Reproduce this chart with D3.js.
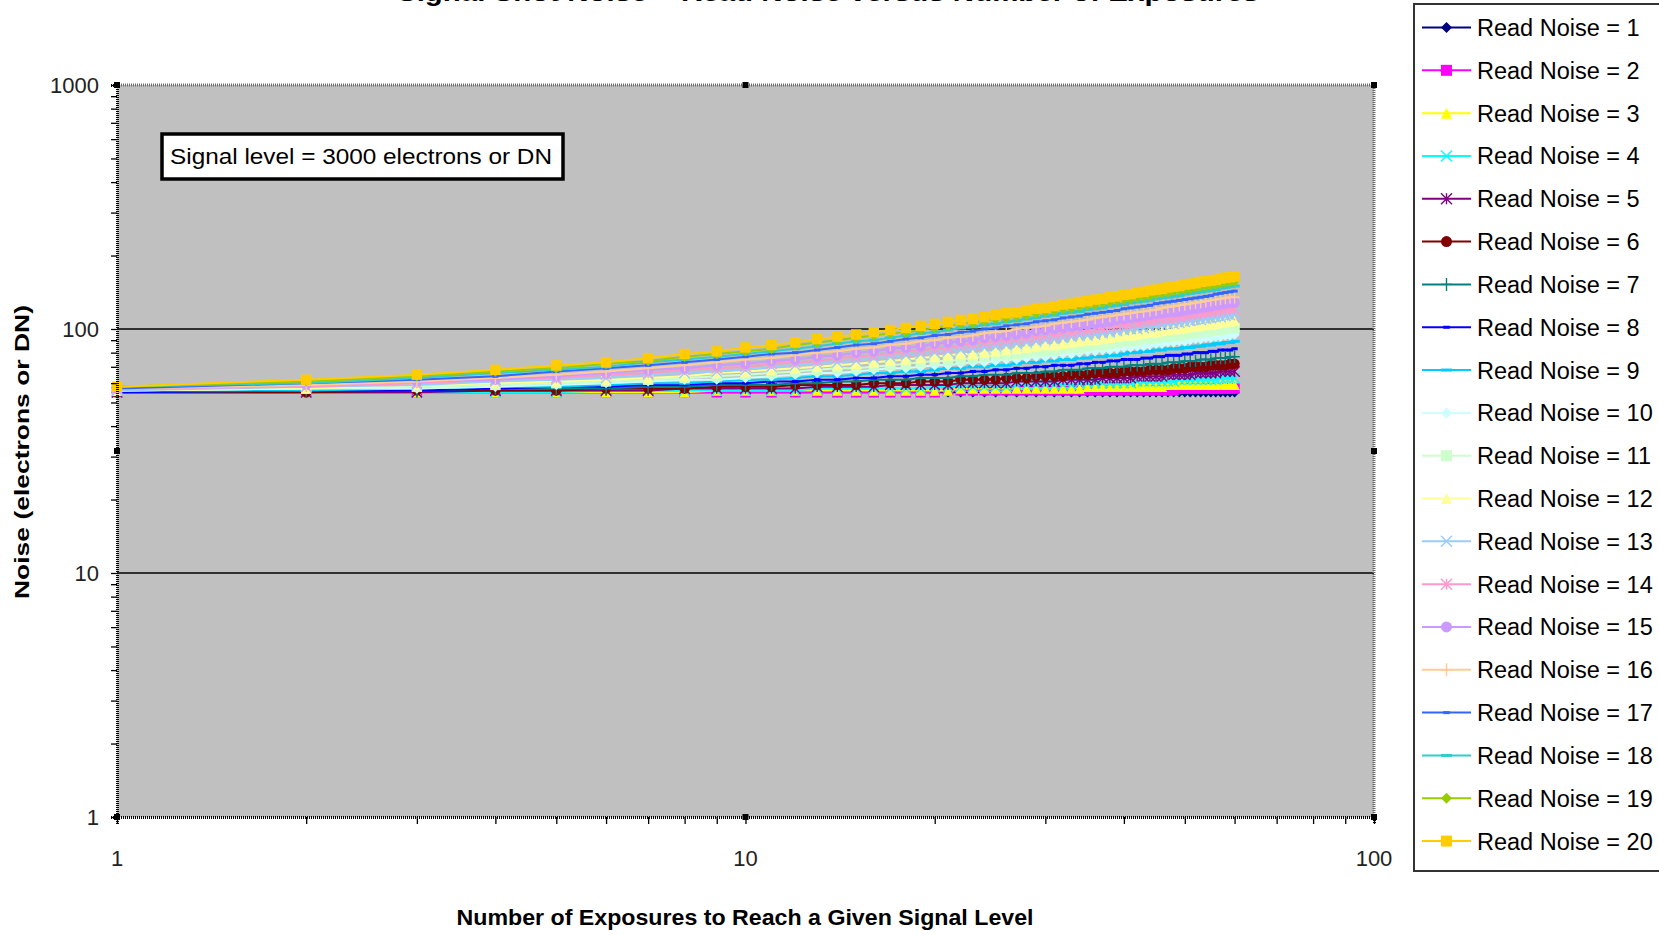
<!DOCTYPE html>
<html>
<head>
<meta charset="utf-8">
<script src="https://cdn.jsdelivr.net/npm/d3@7"></script>
<style>
  body { margin: 0; background: #fff; overflow: hidden; }
  svg { display: block; font-family: "Liberation Sans", Arial, sans-serif; }
</style>
</head>
<body>
<div id="noise_chart"></div>
<script>
/* Signal shot noise + read noise vs number of exposures (log-log) */

const exposures = [1,2,3,4,5,6,7,8,9,10,11,12,13,14,15,16,17,18,19,20,
  21,22,23,24,25,26,27,28,29,30,31,32,33,34,35,36,37,38,39,40,
  41,42,43,44,45,46,47,48,49,50,51,52,53,54,55,56,57,58,59,60];

const readNoise1 = [55,55,55,55,55,55,55,55,55,55, 55,55,55,55,55,55,55,55,55,55,
  55,55,55,55,55,55,55,55,55,55, 55,55,55,55,55,55,55,55,55,55, 55,55,55,55,55,55,55,55,55,55,
  55,55,55,55,55,55,55,55,55,55];
const readNoise2 = [55,55,55,55,55,55,55,55,55,55, 55,55,55,55,55,55,55,55,55,55,
  56,56,56,56,56,56,56,56,56,56, 56,56,56,56,56,56,56,56,56,56, 56,56,56,56,56,56,56,56,57,57,
  57,57,57,57,57,57,57,57,57,57];
const readNoise3 = [55,55,55,55,55,55,55,55,56,56, 56,56,56,56,56,56,56,56,56,56,
  56,57,57,57,57,57,57,57,57,57, 57,57,57,57,58,58,58,58,58,58, 58,58,58,58,58,58,59,59,59,59,
  59,59,59,59,59,59,59,59,59,59];
const readNoise4 = [55,55,55,55,55,56,56,56,56,56, 56,56,57,57,57,57,57,57,57,58,
  58,58,58,58,58,58,59,59,59,59, 59,59,59,60,60,60,60,60,60,60, 60,61,61,61,61,61,61,61,62,62,
  62,62,62,62,62,62,63,63,63,63];
const readNoise5 = [55,55,55,56,56,56,56,57,57,57, 57,57,58,58,58,58,59,59,59,59,
  59,60,60,60,60,60,61,61,61,61, 61,62,62,62,62,62,63,63,63,63, 63,64,64,64,64,64,65,65,65,65,
  65,66,66,66,66,66,67,67,67,67];
const readNoise6 = [55,55,56,56,56,57,57,57,58,58, 58,59,59,59,59,60,60,60,61,61,
  61,62,62,62,62,63,63,63,64,64, 64,64,65,65,65,66,66,66,66,67, 67,67,67,68,68,68,68,69,69,69,
  70,70,70,70,71,71,71,71,72,72];
const readNoise7 = [55,56,56,57,57,57,58,58,59,59, 59,60,60,61,61,62,62,62,63,63,
  63,64,64,65,65,65,66,66,66,67, 67,68,68,68,69,69,69,70,70,70, 71,71,71,72,72,72,73,73,73,74,
  74,74,75,75,75,76,76,76,77,77];
const readNoise8 = [55,56,56,57,58,58,59,59,60,60, 61,61,62,62,63,63,64,64,65,65,
  66,66,67,67,68,68,69,69,70,70, 71,71,71,72,72,73,73,74,74,75, 75,75,76,76,77,77,78,78,78,79,
  79,80,80,80,81,81,82,82,82,83];
const readNoise9 = [56,56,57,58,58,59,60,60,61,62, 62,63,64,64,65,66,66,67,67,68,
  69,69,70,70,71,71,72,73,73,74, 74,75,75,76,76,77,77,78,78,79, 80,80,81,81,82,82,83,83,83,84,
  84,85,85,86,86,87,87,88,88,89];
const readNoise10 = [56,57,57,58,59,60,61,62,62,63, 64,65,66,66,67,68,69,69,70,71,
  71,72,73,73,74,75,75,76,77,77, 78,79,79,80,81,81,82,82,83,84, 84,85,85,86,87,87,88,88,89,89,
  90,91,91,92,92,93,93,94,94,95];
const readNoise11 = [56,57,58,59,60,61,62,63,64,65, 66,67,68,69,69,70,71,72,73,74,
  74,75,76,77,78,78,79,80,81,81, 82,83,84,84,85,86,86,87,88,89, 89,90,91,91,92,93,93,94,94,95,
  96,96,97,98,98,99,99,100,101,101];
const readNoise12 = [56,57,59,60,61,62,63,64,66,67, 68,69,70,71,72,73,74,75,76,77,
  78,79,79,80,81,82,83,84,85,86, 86,87,88,89,90,90,91,92,93,94, 94,95,96,97,97,98,99,100,100,101,
  102,102,103,104,104,105,106,107,107,108];
const readNoise13 = [56,58,59,61,62,63,65,66,67,68, 70,71,72,73,74,76,77,78,79,80,
  81,82,83,84,85,86,87,88,89,90, 91,92,93,94,94,95,96,97,98,99, 100,100,101,102,103,104,105,105,106,107,
  108,109,109,110,111,112,112,113,114,115];
const readNoise14 = [57,58,60,62,63,65,66,68,69,70, 72,73,74,76,77,78,80,81,82,83,
  84,86,87,88,89,90,91,92,93,94, 95,96,97,98,99,100,101,102,103,104, 105,106,107,108,109,110,111,111,112,113,
  114,115,116,117,117,118,119,120,121,121];
const readNoise15 = [57,59,61,62,64,66,68,69,71,72, 74,75,77,78,80,81,83,84,85,87,
  88,89,90,92,93,94,95,96,98,99, 100,101,102,103,104,105,106,107,109,110, 111,112,113,114,115,116,117,117,118,119,
  120,121,122,123,124,125,126,127,128,128];
const readNoise16 = [57,59,61,63,65,67,69,71,73,75, 76,78,80,81,83,84,86,87,89,90,
  92,93,94,96,97,98,100,101,102,103, 105,106,107,108,109,111,112,113,114,115, 116,117,118,119,120,122,123,124,125,126,
  127,128,129,130,131,132,133,134,135,135];
const readNoise17 = [57,60,62,64,67,69,71,73,75,77, 79,80,82,84,86,87,89,91,92,94,
  95,97,98,100,101,103,104,105,107,108, 109,111,112,113,115,116,117,118,119,121, 122,123,124,125,127,128,129,130,131,132,
  133,134,135,136,137,139,140,141,142,143];
const readNoise18 = [58,60,63,66,68,70,73,75,77,79, 81,83,85,87,89,90,92,94,96,97,
  99,101,102,104,105,107,108,110,111,113, 114,116,117,118,120,121,122,124,125,126, 128,129,130,131,133,134,135,136,137,139,
  140,141,142,143,144,145,147,148,149,150];
const readNoise19 = [58,61,64,67,69,72,74,77,79,81, 83,86,88,90,92,94,96,97,99,101,
  103,105,106,108,110,111,113,114,116,118, 119,121,122,124,125,126,128,129,131,132, 133,135,136,137,139,140,141,143,144,145,
  146,148,149,150,151,152,154,155,156,157];
const readNoise20 = [58,62,65,68,71,73,76,79,81,84, 86,88,91,93,95,97,99,101,103,105,
  107,109,110,112,114,116,117,119,121,122, 124,126,127,129,130,132,133,135,136,138, 139,141,142,144,145,146,148,149,150,152,
  153,154,156,157,158,159,161,162,163,164];

const seriesLabels = ["Read Noise = 1", "Read Noise = 2", "Read Noise = 3", "Read Noise = 4",
  "Read Noise = 5", "Read Noise = 6", "Read Noise = 7", "Read Noise = 8", "Read Noise = 9",
  "Read Noise = 10", "Read Noise = 11", "Read Noise = 12", "Read Noise = 13", "Read Noise = 14",
  "Read Noise = 15", "Read Noise = 16", "Read Noise = 17", "Read Noise = 18", "Read Noise = 19",
  "Read Noise = 20"];

const xTickValues = [1, 10, 100];
const yTickValues = [1, 10, 100, 1000];

const series = [readNoise1, readNoise2, readNoise3, readNoise4, readNoise5, readNoise6, readNoise7,
  readNoise8, readNoise9, readNoise10, readNoise11, readNoise12, readNoise13, readNoise14,
  readNoise15, readNoise16, readNoise17, readNoise18, readNoise19, readNoise20];

// excel 2003 default series palette + marker cycle
const colors = ["#000080", "#FF00FF", "#FFFF00", "#00FFFF", "#800080", "#800000", "#008080",
  "#0000FF", "#00CCFF", "#CCFFFF", "#CCFFCC", "#FFFF99", "#99CCFF", "#FF99CC", "#CC99FF",
  "#FFCC99", "#3366FF", "#33CCCC", "#99CC00", "#FFCC00"];
const markers = ["diamond", "square", "triangle", "x", "star", "circle", "plus", "shortdash",
  "longdash", "diamond", "square", "triangle", "x", "star", "circle", "plus", "shortdash",
  "longdash", "diamond", "square"];

const width = 1659,
  height = 935,
  margin = ({ top: 85, right: 285, bottom: 118, left: 117 });

const svg = d3.select("#noise_chart")
  .append("svg")
  .attr("width", width)
  .attr("height", height)
  .attr("viewBox", [0, 0, width, height]);

let x = d3.scaleLog()
  .domain([1, 100])
  .range([margin.left, width - margin.right]);

let y = d3.scaleLog()
  .domain([1, 1000])
  .range([height - margin.bottom, margin.top]);

const plotW = width - margin.left - margin.right,
  plotH = height - margin.top - margin.bottom;

// plot area
svg.append("rect")
  .attr("x", margin.left)
  .attr("y", margin.top)
  .attr("width", plotW)
  .attr("height", plotH)
  .attr("fill", "#C0C0C0");

// gridlines at major y ticks
svg.append("g")
  .selectAll("line")
  .data([10, 100])
  .join("line")
  .attr("x1", margin.left)
  .attr("x2", width - margin.right)
  .attr("y1", d => y(d))
  .attr("y2", d => y(d))
  .attr("stroke", "#000")
  .attr("stroke-width", 1.5);

// top + right border (dotted grey)
svg.append("path")
  .attr("d", `M${margin.left},${margin.top}H${width - margin.right}V${height - margin.bottom}`)
  .attr("fill", "none")
  .attr("stroke", "#6a6a6a")
  .attr("stroke-width", 3)
  .attr("stroke-dasharray", "1,1");

function markerPath(type, s) {
  switch (type) {
    case "diamond": return `M0,${-s}L${s},0L0,${s}L${-s},0Z`;
    case "square": return `M${-s},${-s}h${2 * s}v${2 * s}h${-2 * s}Z`;
    case "triangle": return `M0,${-s}L${s},${s}L${-s},${s}Z`;
    case "x": return `M${-s},${-s}L${s},${s}M${s},${-s}L${-s},${s}`;
    case "star": return `M${-s},${-s}L${s},${s}M${s},${-s}L${-s},${s}M0,${-s}L0,${s}`;
    case "circle": return `M${s},0A${s},${s} 0 1,1 ${-s},0A${s},${s} 0 1,1 ${s},0Z`;
    case "plus": return `M0,${-s - 1}L0,${s + 1}M${-s},0L${s},0`;
    case "shortdash": return `M${-s * 0.6},-1.5h${s * 1.2}v3h${-s * 1.2}Z`;
    case "longdash": return `M${-s},-1.5h${2 * s}v3h${-2 * s}Z`;
  }
}
const strokeOnly = t => t === "x" || t === "star" || t === "plus";

let line = d3.line()
  .x((d, i) => x(exposures[i]))
  .y(d => y(d));

const seriesG = svg.append("g");

series.forEach((values, k) => {
  const g = seriesG.append("g");
  g.append("path")
    .datum(values)
    .attr("d", line)
    .attr("fill", "none")
    .attr("stroke", colors[k])
    .attr("stroke-width", 2);

  g.selectAll("path.mk")
    .data(values)
    .join("path")
    .attr("class", "mk")
    .attr("transform", (d, i) => `translate(${x(exposures[i])},${y(d)})`)
    .attr("d", markerPath(markers[k], 5.2))
    .attr("fill", strokeOnly(markers[k]) ? "none" : colors[k])
    .attr("stroke", strokeOnly(markers[k]) ? colors[k] : "none")
    .attr("stroke-width", 1.4);
});

// left axis: dotted line, ticks outward
svg.append("g")
  .attr("transform", `translate(${margin.left},0)`)
  .call(d3.axisLeft(y)
    .tickValues(y.ticks())
    .tickFormat("")
    .tickSizeOuter(0)
    .tickSize(6))
  .call(g => g.select(".domain")
    .attr("stroke", "#000")
    .attr("stroke-width", 3)
    .attr("stroke-dasharray", "1,1"))
  .call(g => g.selectAll(".tick line").attr("stroke", "#000").attr("stroke-width", 1.3));

svg.append("g")
  .selectAll("text")
  .data(yTickValues)
  .join("text")
  .attr("x", margin.left - 18)
  .attr("y", d => y(d))
  .attr("dy", "0.36em")
  .attr("text-anchor", "end")
  .attr("font-size", 22)
  .attr("fill", "#222")
  .text(d => d);

// bottom axis
svg.append("g")
  .attr("transform", `translate(0,${height - margin.bottom})`)
  .call(d3.axisBottom(x)
    .tickValues(x.ticks())
    .tickFormat("")
    .tickSizeOuter(0)
    .tickSize(7))
  .call(g => g.select(".domain")
    .attr("stroke", "#000")
    .attr("stroke-width", 3)
    .attr("stroke-dasharray", "1,1"))
  .call(g => g.selectAll(".tick line").attr("stroke", "#000").attr("stroke-width", 1.3));

svg.append("g")
  .selectAll("text")
  .data(xTickValues)
  .join("text")
  .attr("x", d => x(d))
  .attr("y", height - margin.bottom + 49)
  .attr("text-anchor", "middle")
  .attr("font-size", 22)
  .attr("fill", "#222")
  .text(d => d);

// little black handles round the plot area
const hx = [margin.left, margin.left + plotW / 2, width - margin.right],
  hy = [margin.top, margin.top + plotH / 2, height - margin.bottom];
const handles = [];
hx.forEach((a, i) => hy.forEach((b, j) => { if (i !== 1 || j !== 1) handles.push([a, b]); }));
svg.append("g")
  .selectAll("rect")
  .data(handles)
  .join("rect")
  .attr("x", d => d[0] - 3)
  .attr("y", d => d[1] - 3)
  .attr("width", 6)
  .attr("height", 6)
  .attr("fill", "#000");

// note box
svg.append("rect")
  .attr("x", 162)
  .attr("y", 134)
  .attr("width", 401)
  .attr("height", 45)
  .attr("fill", "#fff")
  .attr("stroke", "#000")
  .attr("stroke-width", 3.5);

svg.append("text")
  .attr("x", 170)
  .attr("y", 164)
  .attr("font-size", 22.5)
  .attr("textLength", 382)
  .attr("lengthAdjust", "spacingAndGlyphs")
  .text("Signal level = 3000 electrons or DN");

// titles (chart title sits mostly above the picture, as in the source)
svg.append("text")
  .attr("x", 828)
  .attr("y", 0.5)
  .attr("text-anchor", "middle")
  .attr("font-size", 26)
  .attr("font-weight", "bold")
  .attr("textLength", 862)
  .attr("lengthAdjust", "spacingAndGlyphs")
  .text("Signal Shot Noise + Read Noise versus Number of Exposures");

svg.append("text")
  .attr("class", "x-label")
  .attr("x", 745)
  .attr("y", 925)
  .attr("text-anchor", "middle")
  .attr("font-size", 22)
  .attr("font-weight", "bold")
  .attr("textLength", 577)
  .attr("lengthAdjust", "spacingAndGlyphs")
  .text("Number of Exposures to Reach a Given Signal Level");

svg.append("text")
  .attr("class", "y-label")
  .attr("transform", "translate(29,452) rotate(-90)")
  .attr("text-anchor", "middle")
  .attr("font-size", 21)
  .attr("font-weight", "bold")
  .attr("textLength", 294)
  .attr("lengthAdjust", "spacingAndGlyphs")
  .text("Noise (electrons or DN)");

// legend
const legend = svg.append("g");
legend.append("rect")
  .attr("x", 1414)
  .attr("y", 4)
  .attr("width", 270)
  .attr("height", 867)
  .attr("fill", "#fff")
  .attr("stroke", "#333")
  .attr("stroke-width", 2);

const rows = legend.selectAll("g.row")
  .data(seriesLabels)
  .join("g")
  .attr("class", "row")
  .attr("transform", (d, i) => `translate(1422,${27.5 + i * 42.82})`);

rows.append("line")
  .attr("x1", 0)
  .attr("x2", 49)
  .attr("stroke", (d, i) => colors[i])
  .attr("stroke-width", 2);

rows.append("path")
  .attr("transform", "translate(24.5,0)")
  .attr("d", (d, i) => markerPath(markers[i], 5.5))
  .attr("fill", (d, i) => strokeOnly(markers[i]) ? "none" : colors[i])
  .attr("stroke", (d, i) => strokeOnly(markers[i]) ? colors[i] : "none")
  .attr("stroke-width", 1.4);

rows.append("text")
  .attr("x", 55)
  .attr("dy", "0.36em")
  .attr("font-size", 23.5)
  .text(d => d);
</script>
</body>
</html>
